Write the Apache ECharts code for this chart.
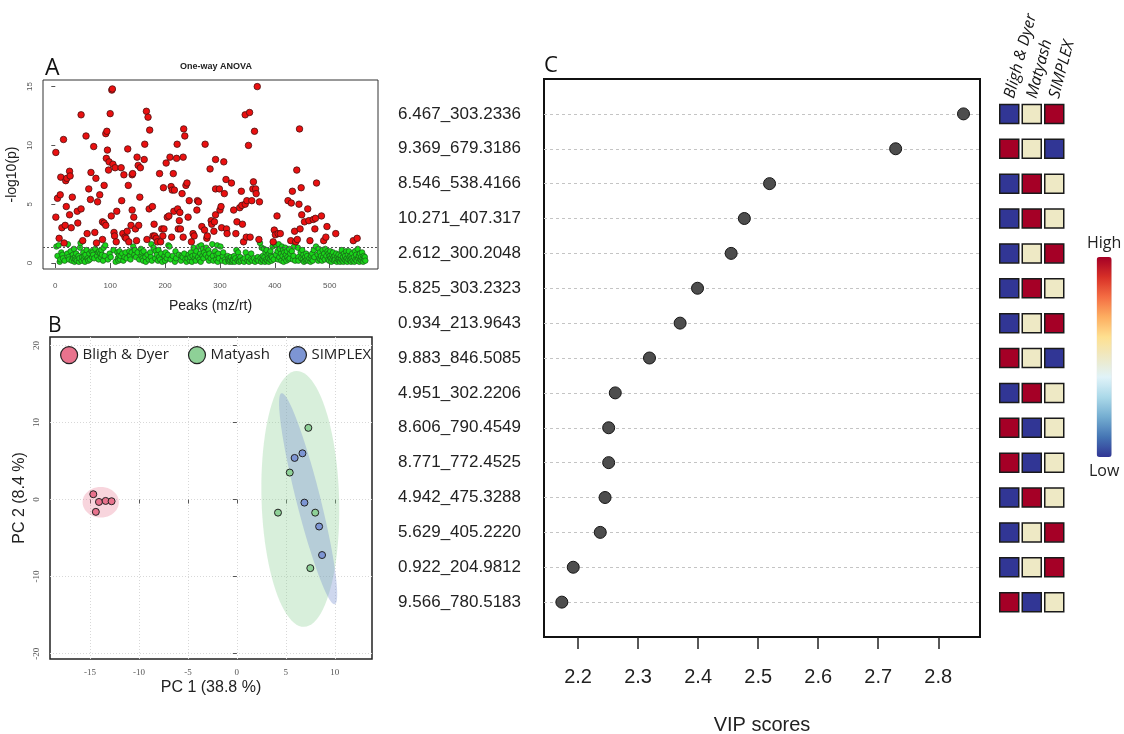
<!DOCTYPE html>
<html>
<head>
<meta charset="utf-8">
<script src="https://cdn.jsdelivr.net/npm/echarts@6/dist/echarts.min.js"></script>
<style>
html, body { margin: 0; padding: 0; background: #fff; }
#chart { width: 1124px; height: 734px; }
</style>
</head>
<body>
<div id="chart"></div>
<script>
// ---------- A: one-way ANOVA, one point per peak [peak index, -log10(p)] ----------
const anovaSignificant = [
  [1,9.4],[1,3.9],[4,5.5],[7,2.1],[9,5.8],[10,7.3],[12,3.0],[15,10.5],[16,1.7],[18,3.2],[19,7.0],[20,4.8],[21,7.2],
  [26,7.8],[27,7.4],[26,4.1],[29,3.0],[31,5.6],[40,4.4],[41,3.4],[47,4.6],[47,12.6],[50,1.9],[56,10.8],[58,2.5],
  [61,6.3],[64,5.4],[65,7.7],[70,9.9],[72,2.6],[74,7.2],[75,1.7],[77,5.2],[81,5.8],[86,2.0],[86,3.5],[89,3.4],
  [89,6.6],[92,3.2],[92,11.0],[94,11.2],[93,8.9],[95,9.6],[97,7.9],[98,8.6],[100,12.7],[102,4.0],[103,14.7],
  [104,14.8],[105,8.4],[107,2.6],[108,2.3],[109,8.1],[112,4.4],[111,1.8],[120,8.1],[121,5.3],[123,2.5],[125,7.5],
  [127,2.2],[129,2.1],[131,2.7],[132,9.7],[133,6.6],[134,1.8],[138,3.2],[140,4.5],[140,7.5],[141,7.6],[143,3.9],
  [146,2.9],[148,1.9],[149,9.0],[151,8.3],[152,3.2],[154,5.6],[155,8.1],[162,8.8],[163,10.1],[166,12.9],[167,2.0],
  [169,12.4],[171,4.6],[172,11.3],[177,4.8],[178,2.3],[180,3.3],[181,2.3],[184,2.1],[186,1.8],[190,7.6],[192,1.8],
  [194,2.9],[196,2.3],[197,6.4],[198,2.9],[202,8.5],[204,3.9],[207,4.0],[209,9.0],[211,6.5],[212,2.2],[213,6.2],
  [215,7.6],[216,4.4],[217,6.2],[221,8.9],[222,10.1],[223,4.6],[224,2.9],[226,3.6],[227,4.3],[228,2.9],[231,5.9],
  [233,2.2],[233,9.0],[234,11.4],[236,10.8],[238,6.6],[240,6.8],[242,3.9],[244,5.3],[248,1.8],[251,2.5],[253,2.3],
  [258,4.5],[259,5.3],[261,5.2],[267,3.1],[272,2.8],[273,10.1],[276,2.1],[277,2.3],[282,8.0],[284,3.6],[285,3.3],
  [289,2.7],[290,3.5],[292,4.1],[292,8.8],[292,6.3],[299,6.3],[300,4.5],[302,4.8],[303,3.0],[307,8.6],[308,5.9],
  [311,7.1],[312,2.9],[313,2.5],[321,6.8],[325,4.5],[329,2.5],[331,3.5],[336,4.7],[339,6.1],[340,4.9],[341,3.3],
  [343,1.8],[346,12.6],[346,5.0],[348,2.2],[349,5.3],[352,10.0],[354,12.8],[355,2.2],[358,5.3],[360,6.3],[361,6.9],
  [363,11.2],[365,6.3],[366,5.9],[368,15.0],[371,2.0],[372,5.2],[397,1.8],[399,2.8],[401,2.4],[404,4.0],[406,2.5],
  [410,2.5],[424,5.3],[429,1.9],[430,5.1],[432,6.1],[436,2.7],[438,1.8],[440,7.9],[441,2.0],[444,5.0],[445,11.4],
  [446,2.9],[448,6.4],[449,4.1],[454,3.5],[460,4.6],[462,3.6],[464,1.9],[470,3.7],[473,2.9],[474,3.8],[476,6.8],
  [485,4.0],[489,1.9],[493,2.2],[495,3.1],[511,2.5],[543,1.9],[550,2.1]
];
const anovaNonSignificant = [
  [2,1.4],[4,0.6],[6,1.5],[8,0.1],[9,0.3],[11,0.9],[13,0.7],[14,0.4],[17,0.2],[22,0.8],[23,1.6],[24,0.5],[25,0.3],
  [28,1.0],[30,0.2],[32,0.7],[33,0.4],[34,1.2],[35,0.1],[36,0.5],[37,0.3],[38,0.8],[39,0.2],[42,0.6],[43,0.1],
  [44,0.4],[45,1.3],[46,1.7],[48,0.2],[49,0.5],[51,0.9],[52,0.3],[53,0.6],[54,0.1],[55,0.7],[57,1.1],[59,0.4],
  [60,0.2],[62,0.8],[63,0.3],[66,1.0],[67,0.5],[68,0.9],[69,0.7],[71,0.4],[73,1.2],[76,0.6],[78,0.9],[79,0.3],
  [80,1.0],[82,0.8],[83,0.5],[84,1.1],[85,0.7],[87,0.2],[88,1.3],[90,0.6],[91,1.5],[96,0.3],[99,0.8],[101,0.5],
  [106,1.1],[110,0.1],[113,0.9],[114,0.4],[115,0.2],[116,0.7],[117,1.0],[118,0.3],[119,0.6],[122,0.8],[124,0.2],
  [126,0.5],[128,0.9],[130,0.4],[135,1.0],[136,0.6],[137,0.3],[139,0.9],[142,1.4],[144,0.7],[145,1.1],[147,0.5],
  [150,0.9],[153,0.3],[156,1.2],[157,0.6],[158,0.9],[159,0.4],[160,0.2],[161,1.0],[164,0.5],[165,0.1],[168,0.7],
  [170,0.3],[173,0.9],[174,0.5],[175,1.6],[176,0.2],[179,1.3],[182,0.4],[183,1.0],[185,0.7],[187,0.2],[188,1.1],
  [189,0.5],[191,0.3],[193,0.8],[195,0.1],[199,0.6],[200,0.2],[201,0.9],[203,0.4],[205,0.7],[206,1.5],[208,1.4],
  [210,0.3],[214,0.6],[218,0.1],[219,1.0],[220,0.4],[225,0.7],[229,0.2],[230,0.6],[232,0.5],[235,0.8],[237,0.3],
  [239,0.1],[241,0.4],[243,0.7],[245,0.2],[246,0.5],[247,0.9],[249,0.1],[250,0.6],[252,1.3],[254,0.4],[255,0.7],
  [256,0.2],[257,1.0],[260,0.5],[262,1.4],[263,0.3],[264,0.8],[265,0.1],[266,1.5],[268,0.6],[269,1.2],[270,0.4],
  [271,0.9],[274,0.7],[275,1.3],[278,0.5],[279,1.1],[280,0.2],[281,0.8],[283,0.4],[286,1.6],[287,0.6],[288,0.2],
  [291,1.0],[293,0.3],[294,0.7],[295,1.5],[296,0.1],[297,0.8],[298,0.4],[301,1.4],[304,0.2],[305,0.6],[306,0.9],
  [309,0.3],[310,0.1],[314,0.6],[315,0.2],[316,0.4],[317,0.1],[318,0.3],[319,0.2],[320,0.5],[322,0.1],[323,0.3],
  [324,0.2],[326,0.6],[327,0.1],[328,0.4],[330,1.1],[332,0.2],[333,0.9],[334,0.3],[335,0.1],[337,0.5],[338,0.2],
  [342,0.3],[344,0.1],[345,0.4],[347,0.9],[350,0.2],[351,0.5],[353,0.1],[356,0.3],[357,0.8],[359,0.2],[362,0.4],
  [364,0.1],[367,0.3],[369,0.5],[370,0.2],[373,1.7],[374,0.4],[375,0.1],[376,1.3],[377,0.3],[378,0.6],[379,0.2],
  [380,1.2],[381,0.5],[382,0.1],[383,0.9],[384,0.3],[385,1.1],[386,0.2],[387,0.7],[388,0.4],[389,0.1],[390,0.8],
  [391,0.3],[392,1.0],[393,0.6],[394,0.2],[395,0.5],[396,1.4],[398,0.3],[400,1.6],[402,0.7],[403,1.5],[405,1.0],
  [406,0.3],[407,1.6],[408,0.5],[409,1.2],[411,0.8],[412,0.2],[413,1.4],[414,0.6],[415,1.1],[416,0.1],[417,0.9],
  [418,0.4],[419,1.3],[420,0.7],[421,0.2],[422,1.0],[423,0.5],[425,0.3],[426,1.2],[427,0.4],[428,0.8],[431,1.0],
  [433,0.3],[434,0.6],[435,1.4],[437,0.2],[442,1.3],[443,0.5],[443,0.2],[447,0.9],[448,0.4],[450,1.1],[451,0.3],
  [452,0.7],[453,0.1],[455,0.5],[456,0.2],[457,0.8],[458,0.3],[459,0.6],[461,0.2],[463,0.4],[465,0.1],[466,0.6],
  [467,0.3],[468,0.8],[469,0.2],[471,1.1],[472,0.5],[475,1.4],[478,0.7],[479,0.2],[480,1.2],[481,0.4],[482,0.9],
  [483,0.3],[484,0.6],[486,0.2],[487,1.1],[488,0.5],[490,0.8],[491,0.3],[492,1.2],[494,0.6],[496,1.0],[497,0.3],
  [498,0.8],[499,0.2],[500,0.6],[501,1.0],[502,0.4],[503,0.1],[504,0.7],[505,0.3],[506,0.9],[507,0.5],[508,0.2],
  [509,0.6],[510,0.3],[512,0.8],[513,0.1],[514,0.5],[515,0.3],[516,0.7],[517,0.2],[518,0.4],[519,0.1],[520,0.6],
  [521,0.3],[522,1.1],[523,0.2],[524,0.5],[525,0.1],[526,0.8],[527,0.3],[528,0.6],[529,0.2],[530,1.0],[531,0.4],
  [532,0.1],[533,0.7],[534,0.3],[535,1.0],[536,0.5],[537,0.2],[538,0.6],[539,0.1],[540,0.4],[541,0.8],[542,0.2],
  [544,0.5],[545,0.1],[546,1.0],[547,0.3],[548,0.7],[549,0.2],[551,1.2],[552,0.4],[553,0.6],[554,0.1],[555,0.8],
  [556,0.3],[557,0.5],[558,0.2],[559,0.9],[560,0.4],[561,0.1],[562,0.6],[563,0.3],[564,0.5],[565,0.2]
];
const anovaThreshold = 1.3;          // -log10(0.05)
const anovaXTicks = [0, 100, 200, 300, 400, 500];
const anovaYTicks = [0, 5, 10, 15];

// ---------- B: PCA scores [PC1, PC2] ----------
const groups = ['Bligh & Dyer', 'Matyash', 'SIMPLEX'];
const pcaBligh = [[-14.66, 0.69], [-14.08, -0.31], [-13.4, -0.18], [-12.79, -0.22], [-14.4, -1.6]];
const pcaMatyash = [[7.3, 9.3], [5.4, 3.5], [4.2, -1.7], [8.0, -1.7], [7.5, -8.9]];
const pcaSimplex = [[5.9, 5.4], [6.7, 6.0], [6.9, -0.4], [8.4, -3.5], [8.7, -7.2]];
// 95% ellipses: centre (x, y), first semi-axis vector, second semi-axis vector
const ellipseBligh = [-13.9, -0.35, 1.85, 0, 0, 1.99];
const ellipseMatyash = [6.48, 0.08, -0.39, 16.6, 3.96, 0.15];
const ellipseSimplex = [7.28, 0.1, -2.72, 13.7, 1.19, 0.38];
const pcaXTicks = [-15, -10, -5, 0, 5, 10];
const pcaYTicks = [-20, -10, 0, 10, 20];

// ---------- C: VIP scores and group levels ----------
const features = [
  '6.467_303.2336', '9.369_679.3186', '8.546_538.4166', '10.271_407.317', '2.612_300.2048',
  '5.825_303.2323', '0.934_213.9643', '9.883_846.5085', '4.951_302.2206', '8.606_790.4549',
  '8.771_772.4525', '4.942_475.3288', '5.629_405.2220', '0.922_204.9812', '9.566_780.5183'
];
const vipScores = [2.842, 2.729, 2.519, 2.477, 2.455, 2.399, 2.370, 2.319, 2.262, 2.251, 2.251, 2.245, 2.237, 2.192, 2.173];
const vipTicks = [2.2, 2.3, 2.4, 2.5, 2.6, 2.7, 2.8];
// relative level per feature: -1 low, 0 middle, 1 high
const levelBligh   = [-1, 1, -1, -1, -1, -1, -1, 1, -1, 1, 1, -1, -1, -1, 1];
const levelMatyash = [0, 0, 1, 1, 0, 1, 0, 0, 1, -1, -1, 1, 0, 0, -1];
const levelSimplex = [1, -1, 0, 0, 1, 0, 1, -1, 0, 0, 0, 0, 1, 1, 0];

// ---------- build ----------
const rowAxis = [''].concat(features.slice().reverse(), ['']);
const vipData = features.map((f, i) => [vipScores[i], f]);
const heatData = [];
features.forEach((f, i) => {
  heatData.push([groups[0], f, levelBligh[i]]);
  heatData.push([groups[1], f, levelMatyash[i]]);
  heatData.push([groups[2], f, levelSimplex[i]]);
});

const groupColors = ['#e8738d', '#8ed197', '#7d95d3'];

function ellipseSeries(name, params, fill) {
  return {
    name: name, type: 'custom', xAxisIndex: 1, yAxisIndex: 1, silent: true, clip: true,
    dimensions: ['cx', 'cy', 'ax', 'ay', 'bx', 'by'],
    encode: { x: 'cx', y: 'cy' },
    data: [params],
    renderItem: function (p, api) {
      const cx = api.value(0), cy = api.value(1), ax = api.value(2), ay = api.value(3), bx = api.value(4), by = api.value(5);
      const pts = [];
      for (let k = 0; k < 96; k++) {
        const t = k / 96 * Math.PI * 2;
        pts.push(api.coord([cx + ax * Math.cos(t) + bx * Math.sin(t), cy + ay * Math.cos(t) + by * Math.sin(t)]));
      }
      return { type: 'polygon', shape: { points: pts }, style: { fill: fill } };
    }
  };
}

const smallSans = { fontFamily: 'Liberation Sans', fontSize: 8, color: '#555' };
const smallSerif = { fontFamily: 'Liberation Serif', fontSize: 9, color: '#555' };

const chart = echarts.init(document.getElementById('chart'), null, { renderer: 'canvas' });
chart.setOption({
  animation: false,
  backgroundColor: '#fff',
  title: [
    { text: 'One-way ANOVA', left: 211, top: 57, textAlign: 'center',
      textStyle: { fontFamily: 'Liberation Sans', fontSize: 9, fontWeight: 'bold', color: '#222' } },
    { text: 'A', left: 40, top: 52, textStyle: { fontFamily: 'Open Sans', fontSize: 23, fontWeight: 'normal', color: '#111' } },
    { text: 'B', left: 43, top: 311, textStyle: { fontFamily: 'Open Sans', fontSize: 21, fontWeight: 'normal', color: '#111' } },
    { text: 'C', left: 539, top: 50, textStyle: { fontFamily: 'Open Sans', fontSize: 22, fontWeight: 'normal', color: '#111' } }
  ],
  grid: [
    { left: 43, top: 80, width: 335, height: 189, show: true, borderColor: '#333', borderWidth: 1, backgroundColor: '#fff', outerBoundsMode: 'none' },
    { left: 50, top: 337, width: 322, height: 322, show: true, borderColor: '#222', borderWidth: 1.5, backgroundColor: '#fff', outerBoundsMode: 'none' },
    { left: 544, top: 79, width: 436, height: 558, show: true, borderColor: '#111', borderWidth: 2, backgroundColor: '#fff', outerBoundsMode: 'none' },
    { left: 998, top: 79, width: 67.5, height: 558, show: false, outerBoundsMode: 'none' }
  ],
  legend: {
    data: groups, selectedMode: false, icon: 'circle', itemWidth: 17, itemHeight: 17, itemGap: 19,
    left: 55, top: 341,
    itemStyle: { borderColor: '#222', borderWidth: 1.2 },
    textStyle: { fontFamily: 'Open Sans', fontSize: 15, color: '#222' }
  },
  visualMap: {
    type: 'continuous', seriesIndex: 9, dimension: 2, min: -1, max: 1, calculable: false, hoverLink: false,
    orient: 'vertical', left: 1072, top: 220, itemWidth: 15, itemHeight: 200,
    text: ['High', 'Low'], textGap: 6,
    textStyle: { fontFamily: 'Open Sans', fontSize: 16, color: '#222' },
    inRange: { color: ['#313695', '#4575b4', '#74add1', '#abd9e9', '#e0f3f8', '#eee9c5', '#fee090', '#fdae61', '#f46d43', '#d73027', '#a50026'] }
  },
  xAxis: [
    { type: 'value', gridIndex: 0, min: -22.4, max: 588, offset: 4,
      axisLine: { show: false }, splitLine: { show: false },
      axisTick: { show: true, length: 5, customValues: anovaXTicks, lineStyle: { color: '#555' } },
      axisLabel: Object.assign({ customValues: anovaXTicks, margin: 9 }, smallSans),
      name: 'Peaks (mz/rt)', nameLocation: 'middle', nameGap: 26,
      nameTextStyle: { fontFamily: 'Liberation Sans', fontSize: 14, color: '#222' } },
    { type: 'value', gridIndex: 1, min: -19.08, max: 13.8,
      axisLine: { show: false },
      splitLine: { show: true, lineStyle: { color: '#d8d8d8', type: [1, 2], width: 1 } },
      axisTick: { show: true, length: 4, customValues: pcaXTicks, lineStyle: { color: '#555' } },
      axisLabel: Object.assign({ customValues: pcaXTicks, margin: 9 }, smallSerif),
      name: 'PC 1 (38.8 %)', nameLocation: 'middle', nameGap: 21,
      nameTextStyle: { fontFamily: 'Liberation Sans', fontSize: 16, color: '#222' } },
    { type: 'value', gridIndex: 2, min: 2.1433, max: 2.8695,
      axisLine: { show: false }, splitLine: { show: false },
      axisTick: { show: true, length: 12, customValues: vipTicks, lineStyle: { color: '#222', width: 1.5 } },
      axisLabel: { customValues: vipTicks, margin: 30, fontFamily: 'Liberation Sans', fontSize: 20, color: '#222' },
      name: 'VIP scores', nameLocation: 'middle', nameGap: 78,
      nameTextStyle: { fontFamily: 'Liberation Sans', fontSize: 20, color: '#222' } },
    { type: 'category', gridIndex: 3, data: groups, position: 'top', offset: -22,
      axisLine: { show: false }, axisTick: { show: false }, splitLine: { show: false },
      axisLabel: { interval: 0, rotate: -75, margin: 3, fontFamily: 'Open Sans', fontStyle: 'italic', fontSize: 16, color: '#111' } }
  ],
  yAxis: [
    { type: 'value', gridIndex: 0, min: -0.51, max: 15.56, offset: 2,
      axisLine: { show: false }, splitLine: { show: false },
      axisTick: { show: true, length: 4, customValues: anovaYTicks, lineStyle: { color: '#555' } },
      axisLabel: Object.assign({ customValues: anovaYTicks, rotate: 90, margin: 7 }, smallSans),
      name: '-log10(p)', nameLocation: 'middle', nameGap: 22, nameRotate: 90,
      nameTextStyle: { fontFamily: 'Liberation Sans', fontSize: 14, color: '#222' } },
    { type: 'value', gridIndex: 1, min: -20.69, max: 21.09,
      axisLine: { show: false },
      splitLine: { show: true, lineStyle: { color: '#d8d8d8', type: [1, 2], width: 1 } },
      axisTick: { show: true, length: 4, customValues: pcaYTicks, lineStyle: { color: '#555' } },
      axisLabel: Object.assign({ customValues: pcaYTicks, rotate: 90, margin: 9 }, smallSerif),
      name: 'PC 2 (8.4 %)', nameLocation: 'middle', nameGap: 22, nameRotate: 90,
      nameTextStyle: { fontFamily: 'Liberation Sans', fontSize: 16, color: '#222' } },
    { type: 'category', gridIndex: 2, data: rowAxis, boundaryGap: false,
      axisLine: { show: false }, axisTick: { show: false },
      splitLine: { show: true, interval: function (i) { return i > 0 && i < rowAxis.length - 1; },
        lineStyle: { color: '#c4c4c4', type: [3, 3], width: 1 } },
      axisLabel: { interval: 0, margin: 23, fontFamily: 'Liberation Sans', fontSize: 17, color: '#222' } },
    { type: 'category', gridIndex: 3, data: rowAxis, boundaryGap: false, show: false }
  ],
  series: [
    { name: 'not significant', type: 'scatter', xAxisIndex: 0, yAxisIndex: 0, data: anovaNonSignificant,
      symbolSize: 5.5, itemStyle: { color: '#19d619', borderColor: '#1a5a1a', borderWidth: 0.7, opacity: 1 },
      markLine: { silent: true, symbol: ['none', 'none'], label: { show: false },
        lineStyle: { color: '#555', type: [2, 2], width: 1 }, data: [{ yAxis: anovaThreshold }] } },
    { name: 'significant', type: 'scatter', xAxisIndex: 0, yAxisIndex: 0, data: anovaSignificant,
      symbolSize: 6.5, itemStyle: { color: '#ea1010', borderColor: '#4a1010', borderWidth: 0.8, opacity: 1 } },
    ellipseSeries('Matyash region', ellipseMatyash, 'rgba(142,209,151,0.35)'),
    ellipseSeries('SIMPLEX region', ellipseSimplex, 'rgba(125,149,211,0.38)'),
    ellipseSeries('Bligh & Dyer region', ellipseBligh, 'rgba(232,115,141,0.3)'),
    { name: groups[0], type: 'scatter', xAxisIndex: 1, yAxisIndex: 1, data: pcaBligh, symbolSize: 7,
      itemStyle: { color: groupColors[0], borderColor: '#222', borderWidth: 1, opacity: 1 } },
    { name: groups[1], type: 'scatter', xAxisIndex: 1, yAxisIndex: 1, data: pcaMatyash, symbolSize: 7,
      itemStyle: { color: groupColors[1], borderColor: '#222', borderWidth: 1, opacity: 1 } },
    { name: groups[2], type: 'scatter', xAxisIndex: 1, yAxisIndex: 1, data: pcaSimplex, symbolSize: 7,
      itemStyle: { color: groupColors[2], borderColor: '#222', borderWidth: 1, opacity: 1 } },
    { name: 'VIP', type: 'scatter', xAxisIndex: 2, yAxisIndex: 2, data: vipData, symbolSize: 12,
      itemStyle: { color: '#4d4d4d', borderColor: '#151515', borderWidth: 1, opacity: 1 } },
    { name: 'levels', type: 'scatter', xAxisIndex: 3, yAxisIndex: 3, data: heatData,
      symbol: 'rect', symbolSize: 19,
      itemStyle: { borderColor: '#1a1a1a', borderWidth: 1.5, opacity: 1 } }
  ]
});
</script>
</body>
</html>
